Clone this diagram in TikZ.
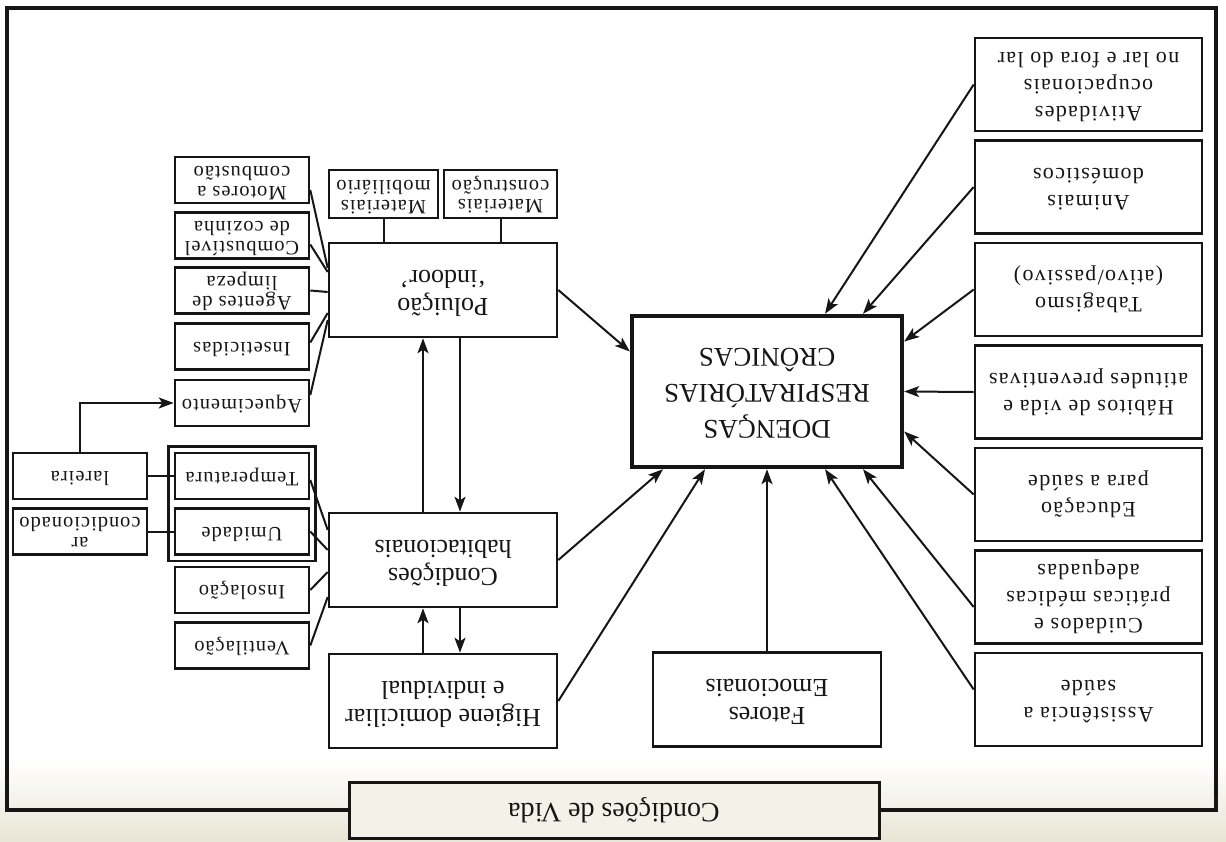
\documentclass[tikz,border=0pt]{standalone}
\usepackage{fontspec}
\setmainfont{Liberation Serif}
\newfontfamily\widetype[LetterSpace=6]{Liberation Serif}
\newfontfamily\smalltype[LetterSpace=5]{Liberation Serif}
\usepackage{graphicx}
\usetikzlibrary{arrows.meta,calc,fit}
% every label is printed turned by half a turn
\newcommand\flip[1]{\rotatebox[origin=c]{180}{\begin{tabular}{@{}c@{}}#1\end{tabular}}}
\definecolor{paper}{RGB}{233,229,213}
\definecolor{ink}{RGB}{22,22,22}

\begin{document}
\begin{tikzpicture}[x=0.5pt,y=-0.5pt,
  every node/.style={inner sep=0pt, text=ink},
  box/.style={draw=ink, line width=1.3pt},
  mainbox/.style={box, minimum width=114pt, minimum height=47pt, font=\fontsize{13}{14}\selectfont},
  sidebox/.style={box, minimum width=113.5pt, minimum height=46.5pt, font=\widetype\fontsize{11}{13.5}\selectfont},
  smallbox/.style={box, minimum width=67pt, minimum height=23pt, font=\smalltype\fontsize{10.2}{9.6}\selectfont},
  matbox/.style={box, minimum height=24pt, font=\smalltype\fontsize{10.2}{9.6}\selectfont},
  hub/.style={draw=ink, line width=2.2pt, minimum width=135pt, minimum height=75.5pt, font=\fontsize{13.5}{18}\selectfont},
  link/.style={draw=ink, line width=1pt},
  arr/.style={link, -{Stealth[length=7.5pt,width=5.5pt,inset=1.8pt]}},
]
\useasboundingbox (0,0) rectangle (1226,841);
\fill[white] (0,0) rectangle (1226,841);
\shade[top color=white, bottom color=paper] (0,760) rectangle (1226,841);

% outer frame
\draw[ink, line width=1.6pt] (7,8) rectangle (1216,810);

% central node
\node[hub] (doe) at (767,391.5) {\flip{DOENÇAS\\RESPIRATÓRIAS\\CRÔNICAS}};

% housing column
\node[mainbox] (pol) at (443,290) {\flip{Poluição\\‘indoor’}};
\node[mainbox] (con) at (443,560) {\flip{Condições\\habitacionais}};
\node[mainbox] (hig) at (443,701) {\flip{Higiene domiciliar\\e individual}};
\node[mainbox] (fat) at (767,699.5) {\flip{Fatores\\Emocionais}};

% materials above the pollution box
\node[matbox, minimum width=54.5pt] (mob) at (383.5,194) {\flip{Materiais\\mobiliário}};
\node[matbox, minimum width=56.5pt] (cst) at (500.5,194) {\flip{Materiais\\construção}};

% pollution sources
\node[smallbox] (mot) at (242,180)   {\flip{Motores a\\combustão}};
\node[smallbox] (cmb) at (242,235.5) {\flip{Combustível\\de cozinha}};
\node[smallbox] (agt) at (242,290.5) {\flip{Agentes de\\limpeza}};
\node[smallbox] (ins) at (242,346.5) {\flip{Inseticidas}};
\node[smallbox] (aqu) at (242,403)   {\flip{Aquecimento}};

% housing conditions
\node[smallbox] (tem)  at (242,476)   {\flip{Temperatura}};
\node[smallbox] (umi)  at (242,531.5) {\flip{Umidade}};
\node[smallbox] (inso) at (242,590)   {\flip{Insolação}};
\node[smallbox] (ven)  at (242,645.5) {\flip{Ventilação}};
\node[draw=ink, line width=1.3pt, fit=(tem)(umi), inner sep=2.5pt] (grp) {};

\node[smallbox] (lar) at (80,476)   {\flip{lareira}};
\node[smallbox] (arc) at (80,531.5) {\flip{ar\\condicionado}};

% right column
\node[sidebox] (atv) at (1088.5,84.5)  {\flip{Atividades\\ocupacionais\\no lar e fora do lar}};
\node[sidebox] (ani) at (1088.5,187)   {\flip{Animais\\domésticos}};
\node[sidebox] (tab) at (1088.5,289.5) {\flip{Tabagismo\\(ativo/passivo)}};
\node[sidebox] (hab) at (1088.5,392)   {\flip{Hábitos de vida e\\atitudes preventivas}};
\node[sidebox] (edu) at (1088.5,494.5) {\flip{Educação\\para a saúde}};
\node[sidebox] (cui) at (1088.5,597)   {\flip{Cuidados e\\práticas médicas\\adequadas}};
\node[sidebox] (ass) at (1088.5,699.5) {\flip{Assistência a\\saúde}};

% title tab on the frame
\node[box, line width=1.5pt, fill=paper!55, minimum width=265pt, minimum height=28pt,
      font=\fontsize{14}{16}\selectfont] (vida) at (614,810) {\flip{Condições de Vida}};

% plain links
\draw[link] (mob.south) -- (mob.south |- pol.north);
\draw[link] (cst.south) -- (cst.south |- pol.north);
\draw[link] ($(mot.east)+(0,10)$) -- ($(pol.west)+(0,-22)$);
\draw[link] ($(cmb.east)+(0,9)$) -- ($(pol.west)+(0,-18)$);
\draw[link] (agt.east) -- ($(pol.west)+(0,2)$);
\draw[link] ($(ins.east)+(0,-4)$) -- ($(pol.west)+(0,23)$);
\draw[link] ($(aqu.east)+(0,-8)$) -- ($(pol.west)+(0,30)$);
\draw[link] ($(tem.east)+(0,4)$) -- ($(con.west)+(0,-30)$);
\draw[link] (umi.east) -- ($(con.west)+(0,-10)$);
\draw[link] (inso.east) -- ($(con.west)+(0,12)$);
\draw[link] (ven.east) -- ($(con.west)+(0,37)$);
\draw[link] (lar.east) -- (tem.west);
\draw[link] (arc.east) -- (umi.west);

% arrows
\draw[arr] (lar.north) |- (aqu.west);
\draw[arr] ($(con.north)+(-20,0)$) -- ($(pol.south)+(-20,0)$);
\draw[arr] ($(pol.south)+(17,0)$) -- ($(con.north)+(17,0)$);
\draw[arr] ($(hig.north)+(-20,0)$) -- ($(con.south)+(-20,0)$);
\draw[arr] ($(con.south)+(17,0)$) -- ($(hig.north)+(17,0)$);
\draw[arr] (pol.east) -- ($(doe.west)+(0,-40)$);
\draw[arr] (con.east) -- ($(doe.south)+(-104,0)$);
\draw[arr] (hig.east) -- ($(doe.south)+(-62,0)$);
\draw[arr] (fat.north) -- (doe.south);
\draw[arr] ($(ass.west)+(0,-10)$) -- ($(doe.south)+(58,0)$);
\draw[arr] ($(cui.west)+(0,10)$) -- ($(doe.south)+(96,0)$);
\draw[arr] (edu.west) -- ($(doe.east)+(0,40)$);
\draw[arr] (hab.west) -- (doe.east);
\draw[arr] (tab.west) -- ($(doe.east)+(0,-50)$);
\draw[arr] (ani.west) -- ($(doe.north)+(96,0)$);
\draw[arr] (atv.west) -- ($(doe.north)+(58,0)$);
\end{tikzpicture}
\end{document}
